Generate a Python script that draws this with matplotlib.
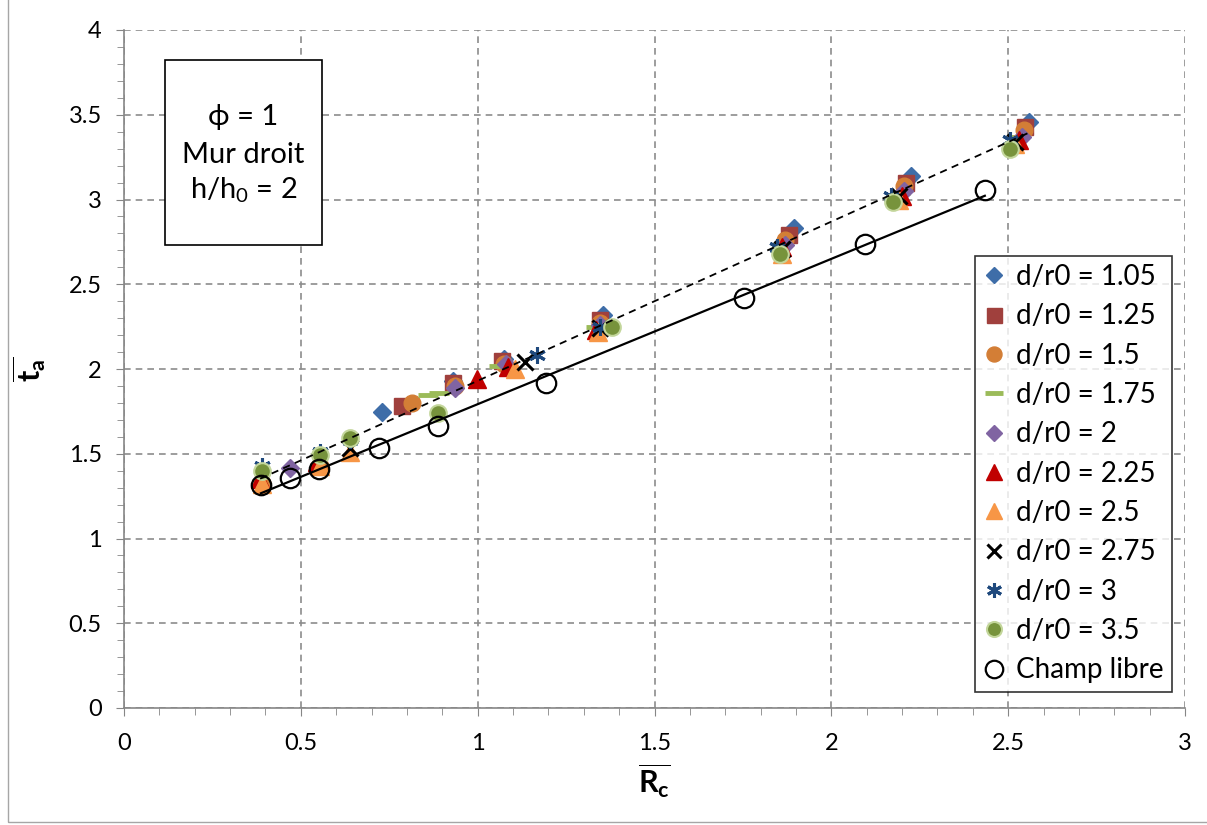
import matplotlib
matplotlib.use("Agg")
import matplotlib.pyplot as plt
import numpy as np
from matplotlib.patches import Rectangle

plt.rcParams['font.family'] = ['Lato', 'DejaVu Sans']
plt.rcParams['mathtext.fontset'] = 'custom'
plt.rcParams['mathtext.rm'] = 'Lato'
plt.rcParams['mathtext.bf'] = 'Lato:bold'
plt.rcParams['mathtext.it'] = 'Lato:italic'

# ---- data ----
x105 = [0.73, 0.93, 1.075, 1.355, 1.895, 2.225, 2.56]
y105 = [1.745, 1.93, 2.06, 2.32, 2.83, 3.14, 3.46]

x125 = [0.785, 0.93, 1.068, 1.345, 1.88, 2.212, 2.547]
y125 = [1.78, 1.92, 2.045, 2.29, 2.79, 3.10, 3.43]

x150 = [0.39, 0.555, 0.815, 0.935, 1.075, 1.345, 1.87, 2.205, 2.545]
y150 = [1.33, 1.43, 1.80, 1.90, 2.03, 2.27, 2.76, 3.08, 3.41]

x175 = [0.86, 0.89, 1.06, 1.335, 1.86, 2.195, 2.53]
y175 = [1.845, 1.86, 2.02, 2.25, 2.73, 3.04, 3.37]

x200 = [0.47, 0.935, 1.08, 1.345, 1.87, 2.205, 2.54]
y200 = [1.415, 1.885, 2.03, 2.26, 2.73, 3.05, 3.37]

x225 = [0.385, 0.545, 0.998, 1.085, 1.335, 1.86, 2.2, 2.53]
y225 = [1.35, 1.45, 1.94, 2.01, 2.23, 2.72, 3.02, 3.35]

x250 = [0.39, 0.555, 0.64, 1.105, 1.34, 1.86, 2.19, 2.52]
y250 = [1.32, 1.43, 1.51, 2.0, 2.22, 2.68, 3.0, 3.33]

x275 = [0.64, 1.134, 1.345, 1.86, 2.19, 2.52]
y275 = [1.535, 2.04, 2.24, 2.71, 3.02, 3.34]

x300 = [0.39, 0.555, 0.64, 1.168, 1.345, 1.845, 2.17, 2.505]
y300 = [1.43, 1.51, 1.58, 2.08, 2.25, 2.72, 3.02, 3.35]

x350 = [0.39, 0.555, 0.638, 0.888, 1.38, 1.855, 2.175, 2.505]
y350 = [1.40, 1.49, 1.59, 1.74, 2.25, 2.68, 2.985, 3.30]

x_free = [0.387, 0.469, 0.551, 0.721, 0.888, 1.193, 1.753, 2.095, 2.434]
y_free = [1.316, 1.357, 1.41, 1.534, 1.664, 1.917, 2.419, 2.737, 3.056]

labels = ["d/r0 = 1.05", "d/r0 = 1.25", "d/r0 = 1.5", "d/r0 = 1.75", "d/r0 = 2",
          "d/r0 = 2.25", "d/r0 = 2.5", "d/r0 = 2.75", "d/r0 = 3", "d/r0 = 3.5",
          "Champ libre"]

xticks = [0, 0.5, 1, 1.5, 2, 2.5, 3]
yticks = [0, 0.5, 1, 1.5, 2, 2.5, 3, 3.5, 4]

fig = plt.figure(figsize=(12.07, 8.25), dpi=100)
ax = fig.add_axes([124/1207, 1 - 708/825, (1185-124)/1207, (708-30)/825])

series = [
    (x105, y105, dict(marker='D', ms=9, color='#3E6DA8', mec='#3E6DA8', ls='none')),
    (x125, y125, dict(marker='s', ms=12, color='#A0403D', mec='#A0403D', ls='none')),
    (x150, y150, dict(marker='o', ms=12, color='#D37E36', mec='#D37E36', ls='none')),
    (x175, y175, dict(marker='_', ms=14, mew=3.5, color='#9BBB59', ls='none')),
    (x200, y200, dict(marker='D', ms=9, color='#8064A2', mec='#8064A2', ls='none')),
    (x225, y225, dict(marker='^', ms=13, color='#C00000', mec='#C00000', ls='none')),
    (x250, y250, dict(marker='^', ms=13, color='#F79646', mec='#F79646', ls='none')),
    (x275, y275, dict(marker='x', ms=11, mew=2.2, color='black', ls='none')),
    (x300, y300, dict(marker=(6, 2, 0), ms=12, mew=2.2, color='#1F497D', ls='none')),
    (x350, y350, dict(marker='o', ms=12, mew=1.5, color='#77933C', mec='#C3D69B', ls='none')),
]

handles = []
for (xs, ys, st), lab in zip(series, labels[:-1]):
    h, = ax.plot(xs, ys, zorder=3, **st)
    handles.append(h)

hf, = ax.plot(x_free, y_free, marker='o', ms=14, mfc='none', mec='black', mew=1.6,
              ls='none', zorder=4)
handles.append(hf)

# trendlines
allx = np.concatenate([x105, x125, x150, x175, x200, x225, x250, x275, x300, x350])
ally = np.concatenate([y105, y125, y150, y175, y200, y225, y250, y275, y300, y350])
p = np.polyfit(allx, ally, 1)
tx = np.array([allx.min(), allx.max()])
ax.plot(tx, np.polyval(p, tx), color='black', lw=1.3, ls=(0, (4, 3)), zorder=5)
pf = np.polyfit(x_free, y_free, 1)
tf = np.array([min(x_free), max(x_free)])
ax.plot(tf, np.polyval(pf, tf), color='black', lw=1.6, zorder=5)

ax.set_xlim(0, 3)
ax.set_ylim(0, 4)
ax.set_xticks(xticks)
ax.set_xticklabels([f"{v:g}" for v in xticks])
ax.set_yticks(yticks)
ax.set_yticklabels([f"{v:g}" for v in yticks])
ax.set_xticks(np.arange(0, 3.01, 0.1), minor=True)
ax.set_yticks(np.arange(0, 4.01, 0.1), minor=True)
ax.tick_params(axis='both', which='major', labelsize=17, length=6, color='#868686',
               direction='out')
ax.tick_params(axis='x', which='major', pad=12)
ax.tick_params(axis='y', which='major', pad=10)
ax.tick_params(axis='both', which='minor', length=5, color='#868686', direction='out')
ax.grid(True, which='major', color='#8c8c8c', ls=(0, (4, 3)), lw=1.2)
ax.set_axisbelow(True)
for s in ['top', 'right']:
    ax.spines[s].set_visible(False)
for s in ['left', 'bottom']:
    ax.spines[s].set_color('#868686')
    ax.spines[s].set_linewidth(1.2)

ax.set_xlabel(r'$\overline{\mathbf{R}_{\mathbf{c}}}$', fontsize=22, labelpad=6)
ax.set_ylabel(r'$\overline{\mathbf{t}_{\mathbf{a}}}$', fontsize=22, labelpad=14)

# annotation box
ax.add_patch(Rectangle((0.0386, 0.683), 0.148, 0.273, transform=ax.transAxes,
                       fill=True, facecolor='white', edgecolor='black', lw=1.2, zorder=6))
cx = 0.0386 + 0.148 / 2
for txt, py in [("ϕ = 1", 117), ("Mur droit", 155), (r"h/h$_0$ = 2", 190)]:
    ax.text(cx, (708 - py) / 678, txt, transform=ax.transAxes, ha='center', va='center',
            fontsize=21, zorder=7)

leg = ax.legend(handles, labels, loc='lower right', bbox_to_anchor=(0.988, 0.024),
                borderaxespad=0, fontsize=20, frameon=True, fancybox=False,
                edgecolor='black', handlelength=0.8, handletextpad=0.4,
                labelspacing=0.48, borderpad=0.3, markerscale=0.9)
leg.get_frame().set_linewidth(1.2)

fig.add_artist(Rectangle((8/1207, 3/825), 1.2, 1.2, transform=fig.transFigure,
                         fill=False, edgecolor='#a6a6a6', lw=1.0))

fig.savefig("out.png", dpi=100)
